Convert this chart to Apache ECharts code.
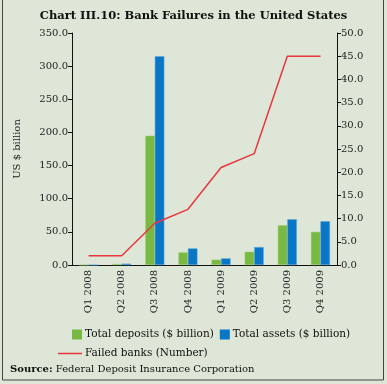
<!DOCTYPE html>
<html>
<head>
<meta charset="utf-8">
<script src="https://cdn.jsdelivr.net/npm/echarts@6/dist/echarts.min.js"></script>
<style>
html,body{margin:0;padding:0;background:#dde6d7;}
#c{width:387px;height:384px;}
</style>
</head>
<body>
<div id="c"></div>
<script>
const categories = ['Q1 2008','Q2 2008','Q3 2008','Q4 2008','Q1 2009','Q2 2009','Q3 2009','Q4 2009'];
const totalDeposits = [0, 1.5, 195, 19, 8, 20, 60, 50];
const totalAssets = [0, 2, 315, 25, 10, 27, 69, 66];
const failedBanks = [2, 2, 9, 12, 21, 24, 45, 45];

const FONT = 'DejaVu Serif';
const chart = echarts.init(document.getElementById('c'), null, {renderer:'canvas'});
chart.setOption({
  backgroundColor: '#dde6d7',
  animation: false,
  title: {
    text: 'Chart III.10: Bank Failures in the United States',
    left: 'center', top: 5,
    textStyle: {fontFamily: FONT, fontWeight: 'bold', fontSize: 11.5, color: '#111'}
  },
  grid: {left: 72, right: 50, top: 33, bottom: 119},
  legend: [{
    left: 72, top: 329, padding: 0, itemWidth: 10, itemHeight: 10, itemGap: 6,
    itemStyle: {borderWidth: 0},
    textStyle: {fontFamily: FONT, fontSize: 10.5, color: '#111', padding: [0,0,0,-2]},
    data: [{name: 'Total deposits ($ billion)', icon: 'rect'}, {name: 'Total assets ($ billion)', icon: 'rect'}]
  }, {
    left: 58, top: 348, padding: 0, itemWidth: 24, itemHeight: 1.5,
    itemStyle: {borderWidth: 0},
    textStyle: {fontFamily: FONT, fontSize: 10.5, color: '#111', padding: [0,0,0,-2]},
    data: [{name: 'Failed banks (Number)', icon: 'rect'}]
  }],
  xAxis: {
    type: 'category', data: categories, boundaryGap: true,
    axisLine: {lineStyle: {color: '#111', width: 1}},
    axisTick: {length: 4, lineStyle: {color: '#111'}},
    axisLabel: {rotate: 90, fontFamily: FONT, fontSize: 10, color: '#222', margin: 5, interval: 0}
  },
  yAxis: [{
    type: 'value', min: 0, max: 350, interval: 50,
    name: 'US $ billion', nameLocation: 'middle', nameGap: 50, nameRotate: 90,
    nameTextStyle: {fontFamily: FONT, fontSize: 10, color: '#222'},
    axisLine: {show: true, lineStyle: {color: '#111'}},
    axisTick: {show: true, length: 4, lineStyle: {color: '#111'}},
    splitLine: {show: false},
    axisLabel: {fontFamily: FONT, fontSize: 10, color: '#222', margin: 4, formatter: v => v.toFixed(1)}
  }, {
    type: 'value', min: 0, max: 50, interval: 5, position: 'right',
    axisLine: {show: true, lineStyle: {color: '#111'}},
    axisTick: {show: true, length: 4, lineStyle: {color: '#111'}},
    splitLine: {show: false},
    axisLabel: {fontFamily: FONT, fontSize: 10, color: '#222', margin: 4, formatter: v => v.toFixed(1)}
  }],
  series: [{
    name: 'Total deposits ($ billion)', type: 'bar', data: totalDeposits,
    barWidth: 9.5, barGap: '0%',
    itemStyle: {color: '#78b843', borderColor: '#9fd06e', borderWidth: 0.5}
  }, {
    name: 'Total assets ($ billion)', type: 'bar', data: totalAssets,
    barWidth: 9.5, barGap: '0%',
    itemStyle: {color: '#0a76c6', borderColor: '#5aa6de', borderWidth: 0.5}
  }, {
    name: 'Failed banks (Number)', type: 'line', yAxisIndex: 1, data: failedBanks,
    symbol: 'none', lineStyle: {color: '#e8363c', width: 1.5}, itemStyle: {color: '#e8363c'}
  }],
  graphic: [{
    type: 'rect', shape: {x: 2.5, y: -10, width: 381, height: 390},
    style: {fill: 'none', stroke: '#444', lineWidth: 1}, silent: true
  }, {
    type: 'text', left: 10, top: 364,
    style: {text: '{b|Source:} Federal Deposit Insurance Corporation', fontFamily: FONT, fontSize: 10, fill: '#111',
      rich: {b: {fontFamily: FONT, fontWeight: 'bold', fontSize: 10, fill: '#111'}}}
  }]
});
</script>
</body>
</html>
